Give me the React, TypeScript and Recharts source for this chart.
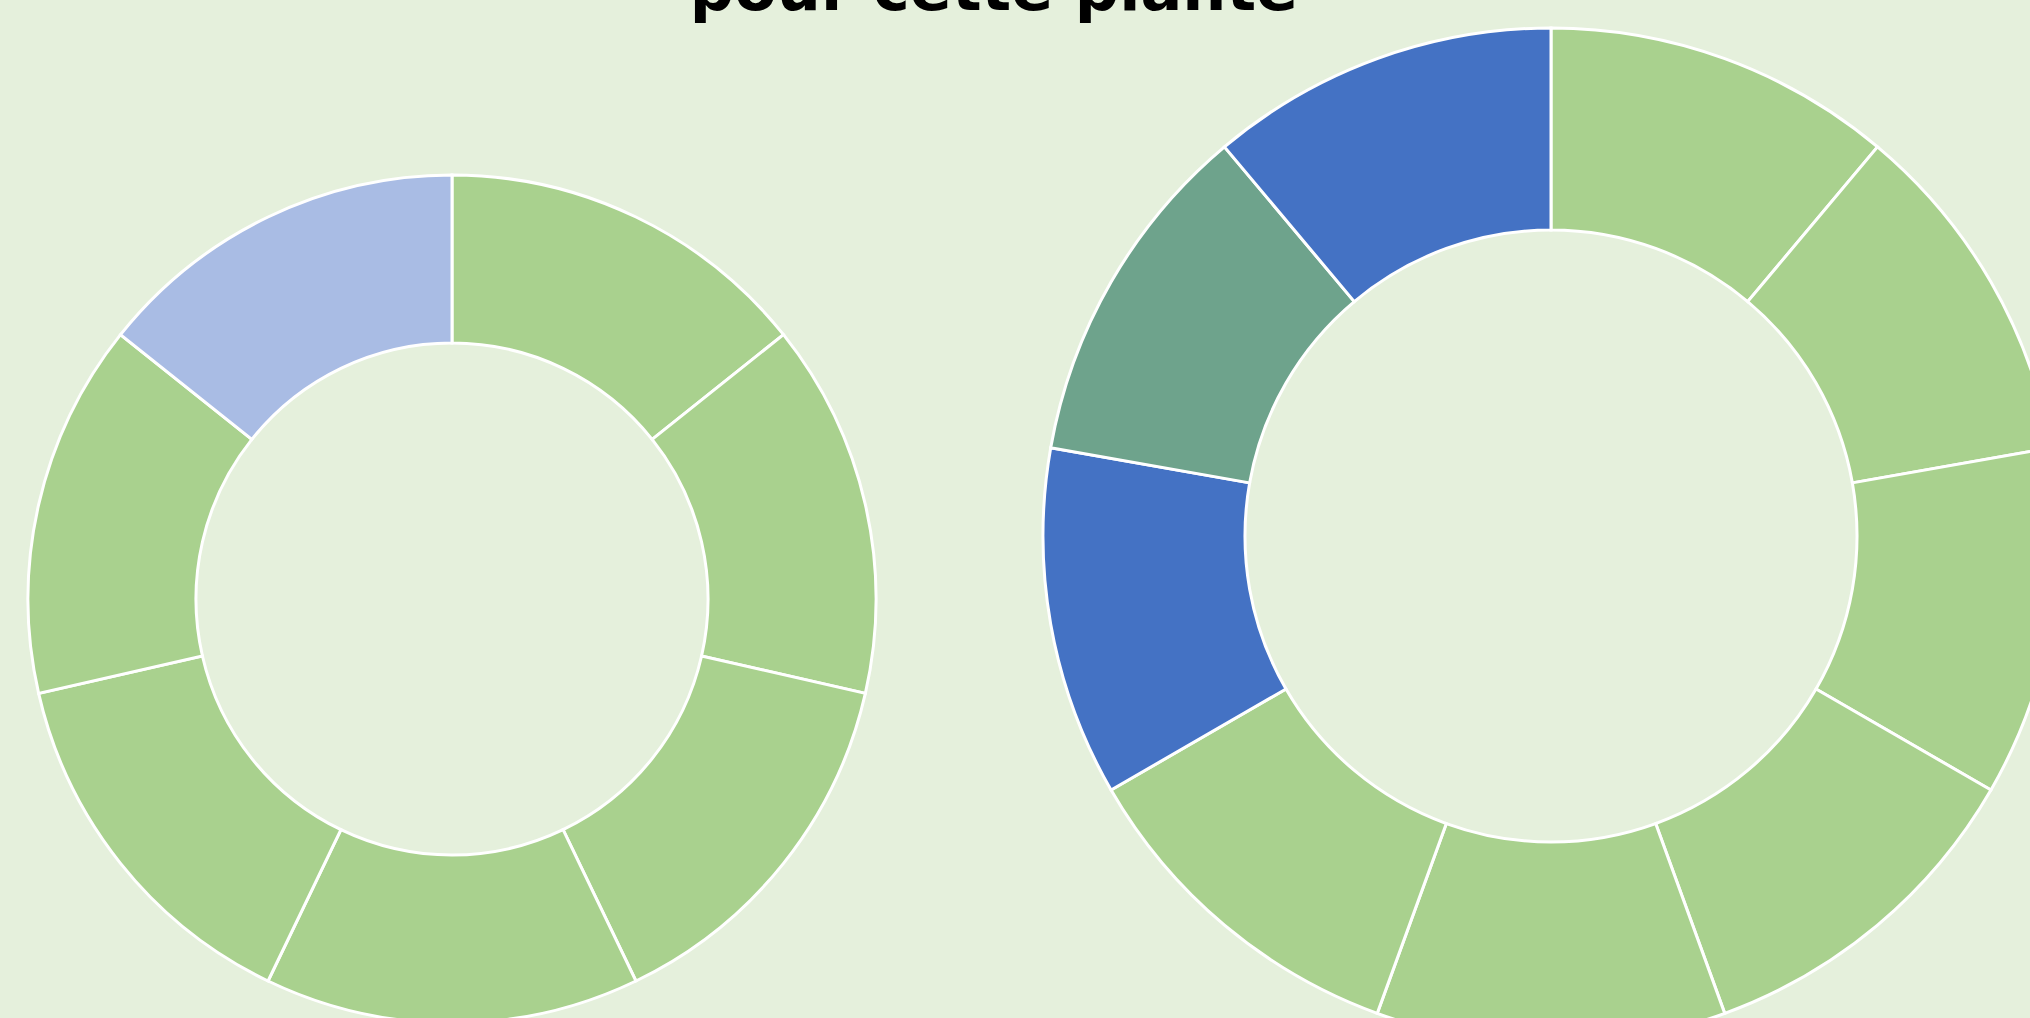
import React from 'react';
import { PieChart, Pie, Cell } from 'recharts';

// Left donut: seven equal parts
const leftCategories = ['Part 1', 'Part 2', 'Part 3', 'Part 4', 'Part 5', 'Part 6', 'Part 7'];
const leftValues = [1, 1, 1, 1, 1, 1, 1];

// Right donut: nine equal parts
const rightCategories = ['Part 1', 'Part 2', 'Part 3', 'Part 4', 'Part 5', 'Part 6', 'Part 7', 'Part 8', 'Part 9'];
const rightValues = [1, 1, 1, 1, 1, 1, 1, 1, 1];

const titleText = 'pour cette plante';

const GREEN = '#a9d18e';
const BLUE = '#4472c4';
const LIGHT_BLUE = '#a9bce4';
const TEAL = '#6ea38c';
const BG = '#e5f0dc';

const leftColors = [GREEN, GREEN, GREEN, GREEN, GREEN, GREEN, LIGHT_BLUE];
const rightColors = [GREEN, GREEN, GREEN, GREEN, GREEN, GREEN, BLUE, TEAL, BLUE];

const leftData = leftCategories.map((name, i) => ({ name, value: leftValues[i] }));
const rightData = rightCategories.map((name, i) => ({ name, value: rightValues[i] }));

export default function App() {
  return (
    <div
      style={{
        position: 'fixed',
        top: 0,
        left: 0,
        width: 2030,
        height: 1018,
        overflow: 'hidden',
        background: BG,
      }}
    >
      <PieChart width={2030} height={1018} margin={{ top: 0, right: 0, bottom: 0, left: 0 }}>
        <Pie
          data={leftData}
          dataKey="value"
          nameKey="name"
          cx={452}
          cy={599}
          innerRadius={256}
          outerRadius={424}
          startAngle={90}
          endAngle={-270}
          stroke="#ffffff"
          strokeWidth={3}
          isAnimationActive={false}
        >
          {leftData.map((d, i) => (
            <Cell key={d.name} fill={leftColors[i]} />
          ))}
        </Pie>
        <Pie
          data={rightData}
          dataKey="value"
          nameKey="name"
          cx={1551}
          cy={536}
          innerRadius={306}
          outerRadius={508}
          startAngle={90}
          endAngle={-270}
          stroke="#ffffff"
          strokeWidth={3}
          isAnimationActive={false}
        >
          {rightData.map((d, i) => (
            <Cell key={d.name} fill={rightColors[i]} />
          ))}
        </Pie>
      </PieChart>
      <svg
        width={2030}
        height={1018}
        style={{ position: 'absolute', top: 0, left: 0, pointerEvents: 'none' }}
      >
        <text
          x={994}
          y={10}
          textAnchor="middle"
          fontFamily="DejaVu Sans"
          fontWeight="bold"
          fontSize={62}
          fill="#000000"
        >
          {titleText}
        </text>
      </svg>
    </div>
  );
}
